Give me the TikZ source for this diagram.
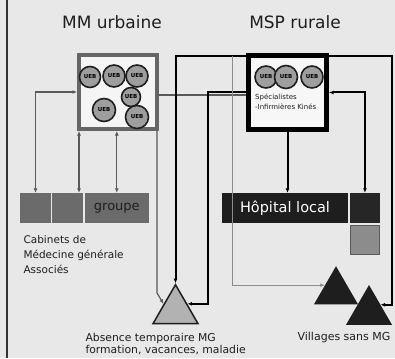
\documentclass[tikz,border=0pt]{standalone}
\usepackage{fontspec}
\setmainfont{DejaVu Sans}
\usepackage{xcolor}
\usepackage{tikz}
\usetikzlibrary{positioning}
\usetikzlibrary{shapes.geometric}
\usetikzlibrary{arrows.meta}
\definecolor{papier}{HTML}{E8E8E8}
\definecolor{encre}{HTML}{1E1E1E}
\tikzset{
    ueb/.style = {circle, draw=encre, line width=1.6pt, fill=black!38, inner sep=0pt, font=\fontsize{5.5}{6}\selectfont\bfseries},
    boxmm/.style = {rectangle, draw=black!60, line width=4pt, fill=black!4, minimum width=78, minimum height=74},
    boxmsp/.style = {rectangle, draw=black, line width=5pt, fill=black!3, minimum width=78, minimum height=74},
    cell/.style = {rectangle, inner sep=0pt, minimum height=30},
    titre/.style = {font=\fontsize{17}{20}\selectfont, text=encre},
    legende/.style = {font=\fontsize{11}{12}\selectfont, text=encre, align=left},
}

\begin{document}
\begin{tikzpicture}[
	x=1pt, y=-1pt,
	>={Latex[length=4.5pt,width=4pt]},
	fin/.style = {draw=black!65, line width=1.2pt},
	epais/.style = {draw=black, line width=2pt},
	pale/.style = {draw=black!45, line width=1pt}
]
\useasboundingbox (0,0) rectangle (395,358);
\fill[papier] (0,0) rectangle (395,358);
\draw[black!80, line width=1.5pt] (7,0) -- (7,358);
%
\node[titre] at (112,22) (tmm) {MM urbaine};
\node[titre] at (295,22) (tmsp) {MSP rurale};
%
\node[boxmm] at (118,92) (mm) {};
\node[ueb, minimum size=22] at (114,76) (u2) {UEB};
\node[ueb, minimum size=21] at (90,77) (u1) {UEB};
\node[ueb, minimum size=22] at (137,76) (u3) {UEB};
\node[ueb, minimum size=19] at (131,97) (u4) {UEB};
\node[ueb, minimum size=23] at (104,110) (u5) {UEB};
\node[ueb, minimum size=23] at (137,117) (u6) {UEB};
%
\node[boxmsp] at (287.5,92.5) (msp) {};
\node[ueb, minimum size=22] at (266,77) (s1) {UEB};
\node[ueb, minimum size=23] at (286,77) (s2) {UEB};
\node[ueb, minimum size=22] at (312,77) (s3) {UEB};
\node[anchor=north west, align=left, inner sep=0pt, text=encre,
      font=\fontsize{7}{10}\selectfont] at (255,94) (spec) {Spécialistes\\-Infirmières Kinés};
%
\node[cell, fill=black!58, minimum width=31] at (35.5,208) (g1) {};
\node[cell, fill=black!58, minimum width=31, right=1pt of g1] (g2) {};
\node[cell, fill=black!58, minimum width=64, right=1pt of g2,
      font=\fontsize{13}{14}\selectfont, text=encre] (g3) {groupe};
\node[legende, anchor=north west, font=\fontsize{10.5}{15}\selectfont] at (20,232) (cab)
      {Cabinets de\\Médecine générale\\Associés};
%
\node[cell, fill=encre, minimum width=126, text=white,
      font=\fontsize{14.5}{16}\selectfont] at (285,208) (hop1) {Hôpital local};
\node[cell, fill=black!85, minimum width=30, right=1.5pt of hop1] (hop2) {};
\node[cell, fill=black!45, draw=black!65, minimum width=29, minimum height=29,
      below=1.5pt of hop2] (hop3) {};
%
\node[regular polygon, regular polygon sides=3, minimum size=52, inner sep=0pt,
      draw=encre, line width=1.5pt, fill=black!30] at (175.5,310.7) (abs) {};
\node[legende, anchor=north west, font=\fontsize{10.8}{11.5}\selectfont] at (82,330) (labs)
      {Absence temporaire MG\\formation, vacances, maladie};
%
\node[regular polygon, regular polygon sides=3, minimum size=51, inner sep=0pt,
      fill=encre] at (336,291.7) (vil1) {};
\node[regular polygon, regular polygon sides=3, minimum size=53, inner sep=0pt,
      fill=encre] at (369,311.5) (vil2) {};
\node[legende] at (344,337) (lvil) {Villages sans MG};
%
\draw[fin,<->] (mm.west) -| (g1.north);
\draw[fin,<->] ([xshift=2]mm.south west) -- ([xshift=2]mm.south west |- g2.north);
\draw[fin,<->] (g3.north |- mm.south) -- (g3.north);
\draw[fin,->] ([xshift=-2]mm.south east) -- ++(0,162) -- (abs.side 1);
\draw[fin] ([yshift=-3]mm.east) -- ([yshift=-3]mm.east -| msp.west);
%
\draw[epais,->] ([yshift=-3]msp.north west) -| (abs.corner 1);
\draw[epais,->] (msp.west) -- ++(-38,0) |- (abs.side 3);
\draw[pale,->] ([xshift=-14,yshift=-3]msp.north west) |- (vil1.side 1);
\draw[epais,->] (msp.south) -- (msp.south |- hop1.north);
\draw[epais,<->] (msp.east) -| (hop2.north);
\draw[epais,->] ([yshift=-3]msp.north east) -- ++(63,0) |- (vil2.side 3);
\end{tikzpicture}
\end{document}
